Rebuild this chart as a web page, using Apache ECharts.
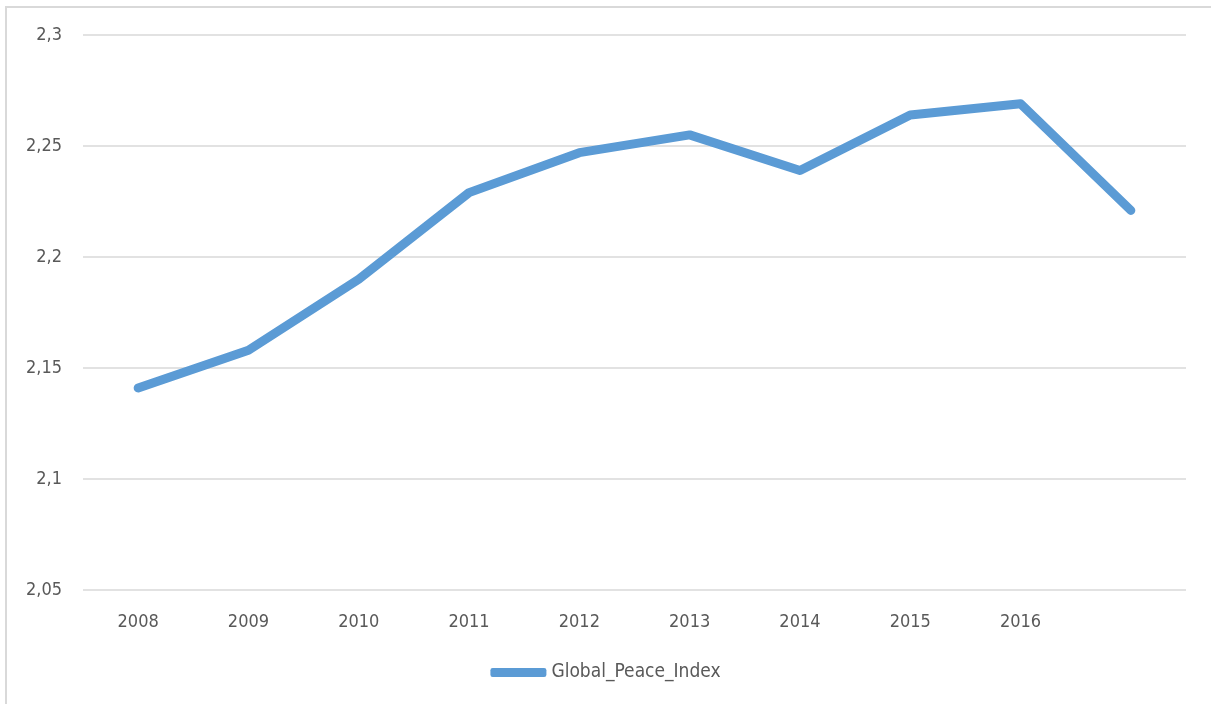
<!DOCTYPE html>
<html>
<head>
<meta charset="utf-8">
<script src="https://cdn.jsdelivr.net/npm/echarts@6/dist/echarts.min.js"></script>
<style>
html,body{margin:0;padding:0;background:#fff;}
#frame{position:absolute;left:5px;top:6px;width:1220px;height:720px;border-left:2px solid #d9d9d9;border-top:2px solid #d9d9d9;box-sizing:border-box;}
#chart{position:absolute;left:0;top:0;width:1211px;height:704px;}
</style>
</head>
<body>
<div id="frame"></div>
<div id="chart"></div>
<script>
var categories = ['2008','2009','2010','2011','2012','2013','2014','2015','2016',''];
var seriesName = 'Global_Peace_Index';
var values = [2.141, 2.158, 2.190, 2.229, 2.247, 2.255, 2.239, 2.264, 2.269, 2.221];
var yMin = 2.05, yMax = 2.3, yStep = 0.05;

var chart = echarts.init(document.getElementById('chart'), null, {renderer:'canvas'});
var fontFam = '"Liberation Sans Narrow", "DejaVu Sans Condensed", "Open Sans", sans-serif';
chart.setOption({
  animation: false,
  grid: {left: 83, right: 25, top: 35, bottom: 114, containLabel: false},
  legend: {
    top: 658, left: 'center',
    data: [seriesName],
    icon: 'roundRect',
    itemWidth: 56, itemHeight: 9,
    itemGap: 4,
    textStyle: {color: '#595959', fontSize: 19, fontFamily: fontFam}
  },
  xAxis: {
    type: 'category',
    data: categories,
    boundaryGap: true,
    axisLine: {show: false},
    axisTick: {show: false},
    axisLabel: {color: '#595959', fontSize: 18, fontFamily: fontFam, margin: 23, interval: 0}
  },
  yAxis: {
    type: 'value',
    min: yMin, max: yMax, interval: yStep,
    axisLine: {show: false},
    axisTick: {show: false},
    splitLine: {lineStyle: {color: '#d9d9d9', width: 1.5}},
    axisLabel: {
      color: '#595959', fontSize: 18, fontFamily: fontFam, margin: 21,
      formatter: function (v) { return String(+v.toFixed(2)).replace('.', ','); }
    }
  },
  series: [{
    name: seriesName,
    type: 'line',
    data: values,
    showSymbol: false,
    symbol: 'none',
    lineStyle: {color: '#5B9BD5', width: 9, cap: 'round', join: 'round'},
    itemStyle: {color: '#5B9BD5'}
  }]
});
</script>
</body>
</html>
